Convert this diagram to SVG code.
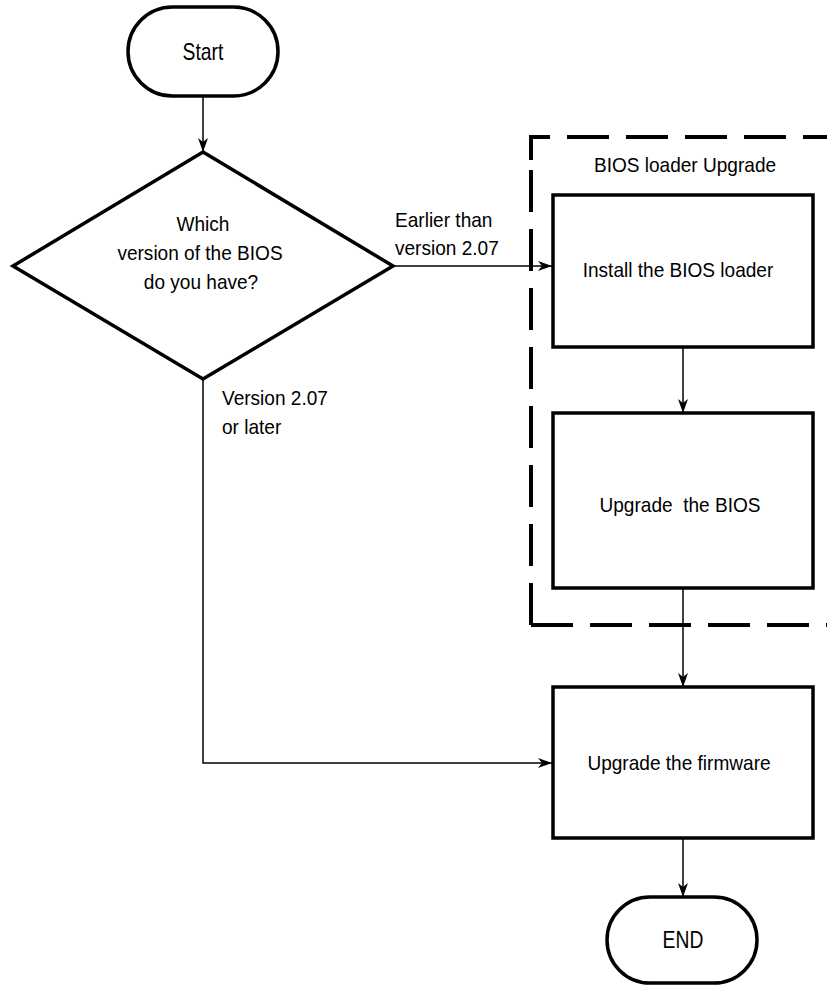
<svg xmlns="http://www.w3.org/2000/svg" width="827" height="986" viewBox="0 0 827 986">
<style>
.shape{fill:#fff;stroke:#000;stroke-width:3.5}
.line{fill:none;stroke:#000;stroke-width:1.5}
.group{fill:none;stroke:#000;stroke-width:4;stroke-dasharray:42 17}
text{font-family:"Liberation Sans",Arial,sans-serif;font-size:20.5px;fill:#000}
.c{text-anchor:middle}
.t{font-size:23px}
</style>
<defs>
<marker id="arr" viewBox="0 0 14 10" refX="14" refY="5" markerWidth="14" markerHeight="10" markerUnits="userSpaceOnUse" orient="auto">
<path d="M0,0 L14,5 L0,10 L4,5 Z" fill="#000"/>
</marker>
</defs>
<g id="group-bios">
<path class="group" d="M531,160 L531,137 L840,137 M531,625 L531,137 M531,625 L840,625"/>
<text class="c" transform="translate(685,172) scale(0.93,1)">BIOS loader Upgrade</text>
</g>
<g id="connectors">
<path class="line" d="M203,96 L203,152" marker-end="url(#arr)"/>
<path class="line" d="M393,266 L552,266" marker-end="url(#arr)"/>
<path class="line" d="M203,379 L203,763 L552,763" marker-end="url(#arr)"/>
<path class="line" d="M683,347 L683,413" marker-end="url(#arr)"/>
<path class="line" d="M683,588 L683,687" marker-end="url(#arr)"/>
<path class="line" d="M683,838 L683,897" marker-end="url(#arr)"/>
<text transform="translate(395,227) scale(0.93,1)">Earlier than</text>
<text transform="translate(395,255) scale(0.93,1)">version 2.07</text>
<text transform="translate(222,405) scale(0.93,1)">Version 2.07</text>
<text transform="translate(222,434) scale(0.93,1)">or later</text>
</g>
<g id="start">
<rect class="shape" x="128" y="7" width="150" height="89" rx="44.5"/>
<text class="c t" transform="translate(203,59.5) scale(0.84,1)">Start</text>
</g>
<g id="decision">
<polygon class="shape" points="203,152 393,266 203,379 13,266"/>
<text class="c" transform="translate(203,231) scale(0.93,1)">Which</text>
<text class="c" transform="translate(200,260) scale(0.93,1)">version of the BIOS</text>
<text class="c" transform="translate(201,289) scale(0.93,1)">do you have?</text>
</g>
<g id="install">
<rect class="shape" x="553" y="195" width="260" height="152"/>
<text class="c" transform="translate(678,277) scale(0.93,1)">Install the BIOS loader</text>
</g>
<g id="upgrade-bios">
<rect class="shape" x="553" y="413" width="260" height="175"/>
<text class="c" transform="translate(680,512) scale(0.93,1)" xml:space="preserve">Upgrade  the BIOS</text>
</g>
<g id="upgrade-firmware">
<rect class="shape" x="553" y="687" width="260" height="151"/>
<text class="c" transform="translate(679,770) scale(0.93,1)">Upgrade the firmware</text>
</g>
<g id="end">
<rect class="shape" x="607" y="897" width="150" height="86" rx="43"/>
<text class="c t" transform="translate(683,948) scale(0.84,1)">END</text>
</g>
</svg>
